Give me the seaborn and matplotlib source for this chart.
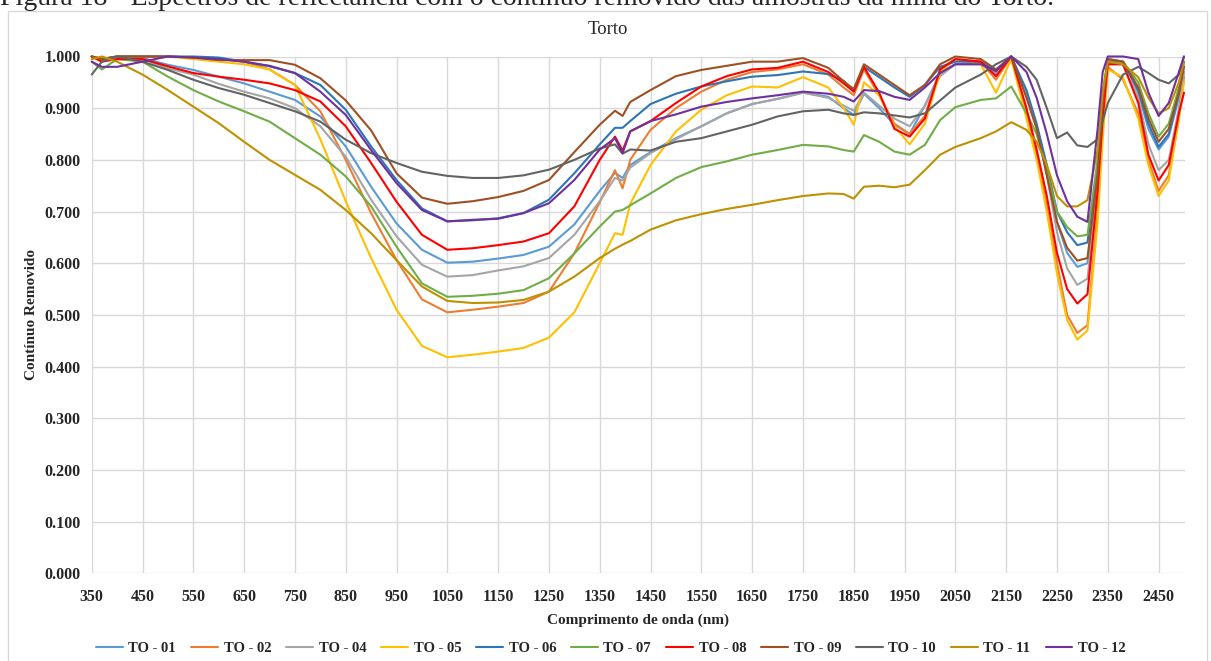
import numpy as np
import pandas as pd
import matplotlib
matplotlib.use("Agg")
import matplotlib.pyplot as plt
import seaborn as sns
from matplotlib.lines import Line2D
from matplotlib.patches import Rectangle
from matplotlib.ticker import FormatStrFormatter

# ---------------- data ----------------
wavelength = [350, 370, 400, 450, 500, 550, 600, 650, 700, 750,
              800, 850, 900, 950, 1000, 1050, 1100, 1150, 1200, 1250,
              1300, 1350, 1380, 1395, 1410, 1450, 1500, 1550, 1600, 1650,
              1700, 1750, 1800, 1830, 1850, 1870, 1900, 1930, 1960, 1990,
              2020, 2050, 2100, 2130, 2160, 2190, 2210, 2230, 2250, 2270,
              2290, 2310, 2330, 2340, 2350, 2380, 2410, 2430, 2450, 2470, 2490, 2500]

to_01 = [1.0, 0.995, 1.0, 0.997, 0.984, 0.974, 0.961, 0.948, 0.932, 0.916,
         0.884, 0.826, 0.748, 0.677, 0.626, 0.601, 0.603, 0.609, 0.616, 0.632,
         0.675, 0.74, 0.775, 0.765, 0.79, 0.815, 0.842, 0.865, 0.89, 0.908,
         0.918, 0.93, 0.922, 0.9, 0.887, 0.928, 0.9, 0.868, 0.85, 0.905,
         0.968, 0.985, 0.988, 0.968, 1.0, 0.925, 0.865, 0.78, 0.68, 0.62,
         0.593, 0.60, 0.76, 0.9, 0.99, 0.99, 0.93, 0.86, 0.82, 0.845, 0.92, 0.97]
to_02 = [1.0, 0.995, 1.0, 1.0, 1.0, 0.998, 0.995, 0.99, 0.975, 0.945,
         0.894, 0.8, 0.697, 0.606, 0.53, 0.505, 0.51, 0.516, 0.523, 0.545,
         0.619, 0.718, 0.78, 0.745, 0.8, 0.858, 0.9, 0.932, 0.955, 0.97,
         0.975, 0.985, 0.965, 0.94, 0.925, 0.975, 0.925, 0.87, 0.85, 0.885,
         0.975, 0.995, 0.99, 0.955, 1.0, 0.89, 0.81, 0.71, 0.6, 0.5,
         0.465, 0.48, 0.70, 0.86, 0.98, 0.955, 0.89, 0.80, 0.74, 0.77, 0.88, 0.96]
to_04 = [1.0, 0.995, 1.0, 0.995, 0.977, 0.965, 0.947, 0.932, 0.919, 0.9,
         0.865, 0.806, 0.723, 0.652, 0.597, 0.574, 0.577, 0.586, 0.594, 0.61,
         0.655, 0.72, 0.765, 0.76, 0.785, 0.813, 0.84, 0.865, 0.89, 0.908,
         0.918, 0.93, 0.92, 0.905, 0.895, 0.93, 0.905, 0.88, 0.865, 0.905,
         0.962, 0.985, 0.985, 0.965, 1.0, 0.93, 0.865, 0.77, 0.66, 0.59,
         0.558, 0.57, 0.75, 0.89, 0.985, 0.985, 0.92, 0.83, 0.78, 0.80, 0.90, 0.97]
to_05 = [1.0, 0.99, 1.0, 1.0, 1.0, 0.995, 0.99, 0.985, 0.975, 0.945,
         0.84, 0.72, 0.61, 0.51, 0.44, 0.418, 0.423, 0.429, 0.436, 0.456,
         0.505, 0.60, 0.658, 0.655, 0.715, 0.79, 0.855, 0.897, 0.925, 0.942,
         0.94, 0.96, 0.94, 0.9, 0.868, 0.95, 0.925, 0.865, 0.83, 0.87,
         0.97, 0.995, 0.985, 0.93, 0.995, 0.88, 0.80, 0.70, 0.58, 0.49,
         0.452, 0.47, 0.68, 0.84, 0.975, 0.96, 0.88, 0.79, 0.73, 0.76, 0.88, 0.95]
to_06 = [1.0, 0.995, 1.0, 1.0, 1.0, 1.0, 0.998, 0.99, 0.981, 0.968,
         0.945, 0.897, 0.826, 0.761, 0.706, 0.681, 0.683, 0.687, 0.697, 0.723,
         0.774, 0.83, 0.862, 0.862, 0.875, 0.908, 0.928, 0.942, 0.952, 0.961,
         0.964, 0.971, 0.966, 0.953, 0.933, 0.98, 0.96, 0.94, 0.922, 0.945,
         0.98, 0.99, 0.99, 0.972, 1.0, 0.935, 0.87, 0.79, 0.70, 0.66,
         0.635, 0.64, 0.79, 0.92, 0.995, 0.99, 0.935, 0.87, 0.825, 0.85, 0.93, 0.99]
to_07 = [0.99, 0.975, 0.995, 0.99, 0.961, 0.935, 0.913, 0.894, 0.874, 0.842,
         0.81, 0.768, 0.71, 0.632, 0.561, 0.535, 0.537, 0.541, 0.548, 0.571,
         0.619, 0.671, 0.70, 0.703, 0.712, 0.735, 0.765, 0.786, 0.797, 0.81,
         0.819, 0.829, 0.826, 0.819, 0.816, 0.848, 0.835, 0.816, 0.81, 0.829,
         0.877, 0.902, 0.916, 0.919, 0.942, 0.89, 0.85, 0.78, 0.70, 0.67,
         0.652, 0.655, 0.80, 0.93, 0.995, 0.99, 0.95, 0.89, 0.845, 0.87, 0.94, 0.98]
to_08 = [1.0, 0.99, 0.995, 0.995, 0.981, 0.968, 0.961, 0.955, 0.948, 0.935,
         0.913, 0.865, 0.794, 0.719, 0.655, 0.626, 0.629, 0.635, 0.642, 0.658,
         0.71, 0.80, 0.845, 0.818, 0.855, 0.875, 0.91, 0.942, 0.962, 0.975,
         0.978, 0.99, 0.97, 0.948, 0.932, 0.98, 0.93, 0.86, 0.845, 0.88,
         0.975, 0.995, 0.99, 0.962, 1.0, 0.90, 0.82, 0.73, 0.62, 0.55,
         0.522, 0.54, 0.74, 0.88, 0.985, 0.985, 0.91, 0.81, 0.76, 0.79, 0.89, 0.93]
to_09 = [1.0, 0.995, 1.0, 1.0, 1.0, 0.998, 0.993, 0.993, 0.993, 0.984,
         0.958, 0.915, 0.857, 0.774, 0.727, 0.715, 0.72, 0.728, 0.74, 0.761,
         0.815, 0.868, 0.895, 0.885, 0.912, 0.935, 0.962, 0.974, 0.982, 0.99,
         0.99, 0.997, 0.978, 0.952, 0.937, 0.985, 0.965, 0.945, 0.925, 0.945,
         0.985, 1.0, 0.995, 0.975, 1.0, 0.92, 0.86, 0.77, 0.68, 0.63,
         0.605, 0.61, 0.77, 0.91, 0.995, 0.99, 0.94, 0.88, 0.835, 0.86, 0.93, 0.98]
to_10 = [0.965, 0.99, 1.0, 0.99, 0.974, 0.955, 0.939, 0.926, 0.91, 0.894,
         0.874, 0.839, 0.813, 0.794, 0.777, 0.769, 0.765, 0.765, 0.77, 0.781,
         0.80, 0.822, 0.83, 0.812, 0.82, 0.818, 0.835, 0.842, 0.855, 0.868,
         0.884, 0.894, 0.897, 0.89, 0.887, 0.892, 0.89, 0.886, 0.882, 0.89,
         0.915, 0.94, 0.965, 0.985, 1.0, 0.98, 0.955, 0.90, 0.842, 0.853,
         0.828, 0.825, 0.84, 0.875, 0.91, 0.965, 0.98, 0.968, 0.955, 0.948, 0.965, 1.0]
to_11 = [0.995, 1.0, 0.99, 0.965, 0.935, 0.903, 0.871, 0.835, 0.80, 0.771,
         0.742, 0.703, 0.658, 0.606, 0.555, 0.527, 0.523, 0.524, 0.529, 0.545,
         0.574, 0.61, 0.628, 0.636, 0.643, 0.665, 0.683, 0.695, 0.705, 0.713,
         0.722, 0.73, 0.735, 0.734, 0.725, 0.748, 0.75, 0.747, 0.752, 0.78,
         0.81, 0.825, 0.842, 0.855, 0.873, 0.858, 0.835, 0.79, 0.73, 0.71,
         0.71, 0.722, 0.82, 0.93, 0.99, 0.985, 0.96, 0.92, 0.89, 0.90, 0.95, 0.99]
to_12 = [0.99, 0.98, 0.98, 0.99, 1.0, 0.998, 0.995, 0.99, 0.982, 0.968,
         0.932, 0.887, 0.819, 0.755, 0.703, 0.681, 0.684, 0.686, 0.697, 0.716,
         0.761, 0.82, 0.842, 0.813, 0.855, 0.875, 0.888, 0.903, 0.912, 0.919,
         0.925, 0.932, 0.928, 0.922, 0.913, 0.935, 0.933, 0.922, 0.916, 0.94,
         0.968, 0.985, 0.985, 0.972, 1.0, 0.97, 0.92, 0.85, 0.77, 0.72,
         0.69, 0.68, 0.86, 0.97, 1.0, 1.0, 0.995, 0.93, 0.885, 0.91, 0.97, 1.0]

series_names = ["TO - 01", "TO - 02", "TO - 04", "TO - 05", "TO - 06", "TO - 07",
                "TO - 08", "TO - 09", "TO - 10", "TO - 11", "TO - 12"]
series_values = [to_01, to_02, to_04, to_05, to_06, to_07, to_08, to_09, to_10, to_11, to_12]
series_colors = ["#5B9BD5", "#ED7D31", "#A5A5A5", "#FFC000", "#2E75B6", "#70AD47",
                 "#FF0000", "#9E5022", "#636363", "#BF9000", "#7030A0"]

x_ticks = list(range(350, 2451, 100))
y_ticks = [0.0, 0.1, 0.2, 0.3, 0.4, 0.5, 0.6, 0.7, 0.8, 0.9, 1.0]

# ---------------- build long table ----------------
rows = []
for name, vals in zip(series_names, series_values):
    for w, v in zip(wavelength, vals):
        rows.append({"wl": w, "val": v, "amostra": name})
df = pd.DataFrame(rows)
palette = dict(zip(series_names, series_colors))

# ---------------- figure ----------------
sns.set_theme(style="white")
plt.rcParams["font.family"] = ["Liberation Serif", "DejaVu Serif"]

W, H = 1211, 661
fig = plt.figure(figsize=(W / 100, H / 100), dpi=100)
left, right, top, bottom = 91.7, 1185, 56.5, 573.3
ax = fig.add_axes([left / W, 1 - bottom / H, (right - left) / W, (bottom - top) / H])

sns.lineplot(data=df, x="wl", y="val", hue="amostra", hue_order=series_names,
             palette=palette, linewidth=1.5, ax=ax, legend=False,
             sort=False, estimator=None)
for ln in ax.lines:
    ln.set_clip_on(False)

ax.set_xlim(350, 2502)
ax.set_ylim(0, 1.0)
ax.set_xticks(x_ticks)
ax.set_yticks(y_ticks)
ax.yaxis.set_major_formatter(FormatStrFormatter("%.3f"))
ax.grid(True, color="#D9D9D9", linewidth=1.0)
ax.set_axisbelow(True)
for s in ax.spines.values():
    s.set_visible(False)
ax.tick_params(axis="both", length=0, labelsize=11.5)
ax.tick_params(axis="y", pad=8)
ax.tick_params(axis="x", pad=11)
for lbl in ax.get_xticklabels() + ax.get_yticklabels():
    lbl.set_fontweight("bold")
ax.set_xlabel("")
ax.set_ylabel("")

fig.text(((left + right) / 2) / W, 1 - 620 / H, "Comprimento de onda (nm)",
         ha="center", va="center", fontsize=11, fontweight="bold")
fig.text(32 / W, 1 - ((top + bottom) / 2) / H, "Contínuo Removido",
         ha="center", va="center", rotation=90, fontsize=11, fontweight="bold")
fig.text(607.5 / W, 1 - 30 / H, "Torto", ha="center", va="center", fontsize=13.5)

handles = [Line2D([0], [0], color=c, lw=1.5) for c in series_colors]
fig.legend(handles, series_names, loc="center", bbox_to_anchor=(611 / W, 1 - 648 / H),
           ncol=11, frameon=False, prop={"weight": "bold", "size": 10.5},
           handlelength=1.8, handletextpad=0.4, columnspacing=1.05)

# chart-area border
fig.patches.append(Rectangle((8 / W, -0.01), (1207 - 8) / W, (H - 11) / H + 0.01,
                             transform=fig.transFigure, fill=False,
                             edgecolor="#D9D9D9", linewidth=1.0))

# caption cut at the top of the picture (as in the reference)
fig.text(0.0, 1 - 5 / H,
         "Figura 18 - Espectros de reflectância com o contínuo removido das amostras da mina do Torto.",
         ha="left", va="baseline", fontsize=20)

fig.savefig("out.png", dpi=100)
